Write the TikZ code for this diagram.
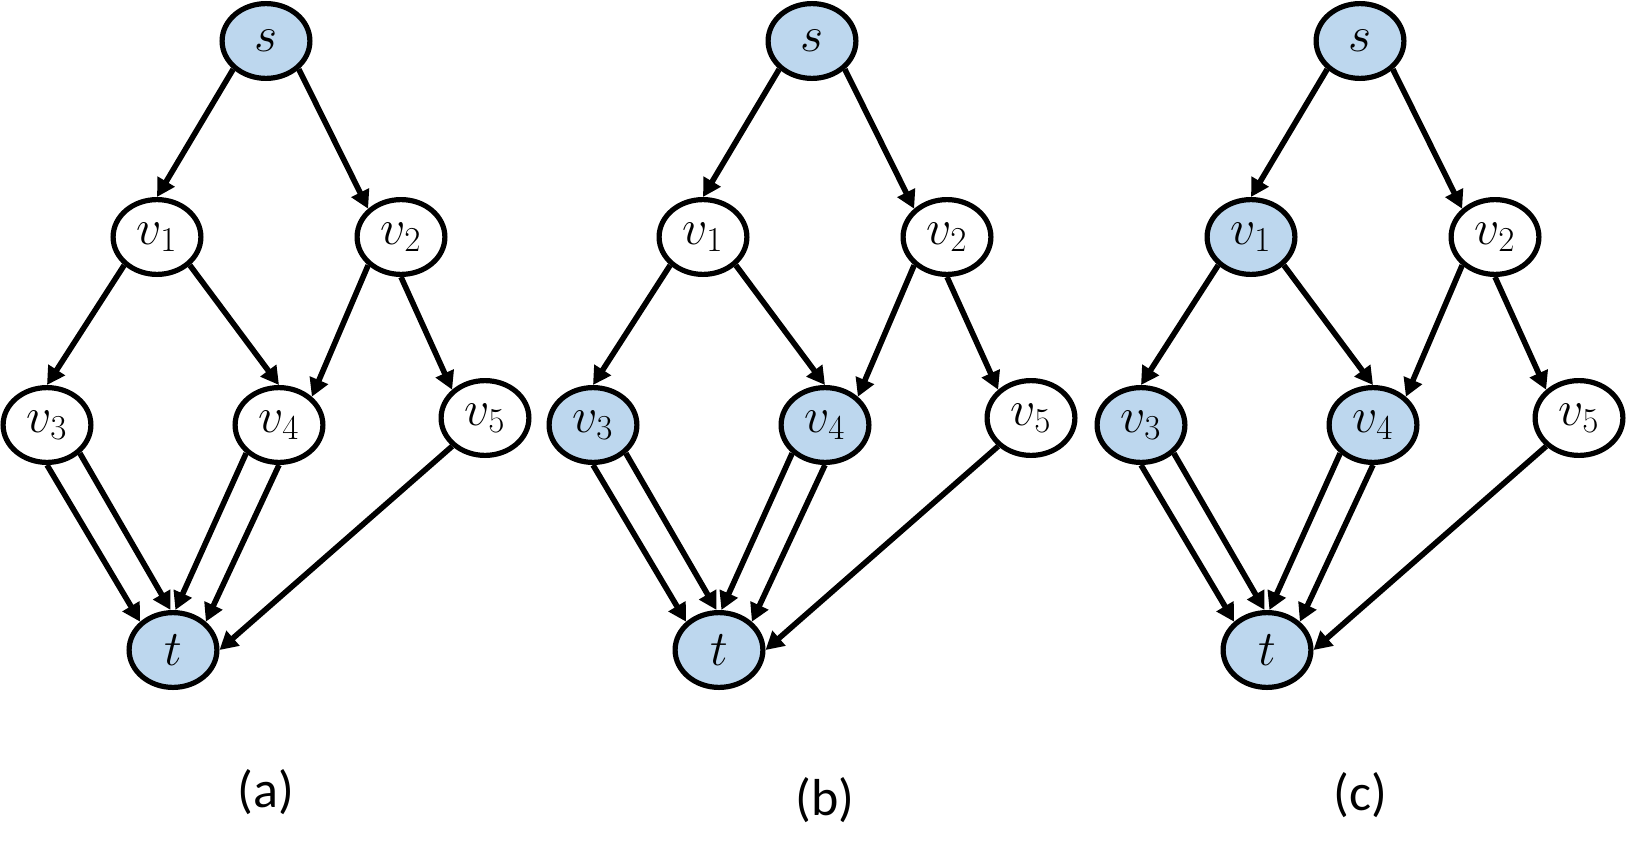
\RequirePackage{fix-cm}
\documentclass[tikz,border=0pt]{standalone}
\usepackage{fontspec}
\newfontfamily\labelfont{Carlito}
\usetikzlibrary{shapes.geometric,arrows.meta}
\definecolor{nodeblue}{HTML}{BDD7EE}
\tikzset{
  gnode/.style={ellipse, draw=black, line width=2.6pt, minimum width=43.9pt,
    minimum height=37.4pt, inner sep=0pt, fill=white,
    font=\fontsize{25}{29}\selectfont},
  hit/.style={fill=nodeblue},
  edge/.style={line width=2.8pt, -{Triangle[length=9pt,width=9.5pt]}},
  caption/.style={font=\labelfont\fontsize{26}{30}\selectfont, inner sep=0pt}
}
\newcommand\flowgraph[5]{%
  \begin{scope}[xshift=#2*0.5pt]
    \node[gnode,hit] (#1-s)  at (266,41)  {$s$};
    \node[gnode,#3]  (#1-v1) at (157,237) {$v_1$};
    \node[gnode]     (#1-v2) at (401,237) {$v_2$};
    \node[gnode,#4]  (#1-v3) at (47,425)  {$v_3$};
    \node[gnode,#5]  (#1-v4) at (279,425) {$v_4$};
    \node[gnode]     (#1-v5) at (485,418) {$v_5$};
    \node[gnode,hit] (#1-t)  at (173,650) {$t$};
    \draw[edge] (#1-s.south west)  -- (#1-v1.north);
    \draw[edge] (#1-s.south east)  -- (#1-v2.north west);
    \draw[edge] (#1-v1.south west) -- (#1-v3.north);
    \draw[edge] (#1-v1.south east) -- (#1-v4.north);
    \draw[edge] (#1-v2.south west) -- (#1-v4.north east);
    \draw[edge] (#1-v2.south)      -- (#1-v5.north west);
    \draw[edge] (#1-v3.south)      -- (#1-t.north west);
    \draw[edge] (#1-v3.south east) -- ([xshift=-1.2pt]#1-t.north);
    \draw[edge] (#1-v4.south west) -- ([xshift=1.2pt]#1-t.north);
    \draw[edge] (#1-v4.south)      -- (#1-t.north east);
    \draw[edge] (#1-v5.south west) -- (#1-t.east);
  \end{scope}}
\begin{document}
\begin{tikzpicture}[x=0.5pt,y=-0.5pt]
  \useasboundingbox (0,0) rectangle (1627,867);
  \flowgraph{a}{0}{}{}{}
  \flowgraph{b}{546}{}{hit}{hit}
  \flowgraph{c}{1094}{hit}{hit}{hit}
  \node[caption] (a-cap) at (266,792)  {(a)};
  \node[caption] (b-cap) at (825,800)  {(b)};
  \node[caption] (c-cap) at (1360,795) {(c)};
\end{tikzpicture}
\end{document}
